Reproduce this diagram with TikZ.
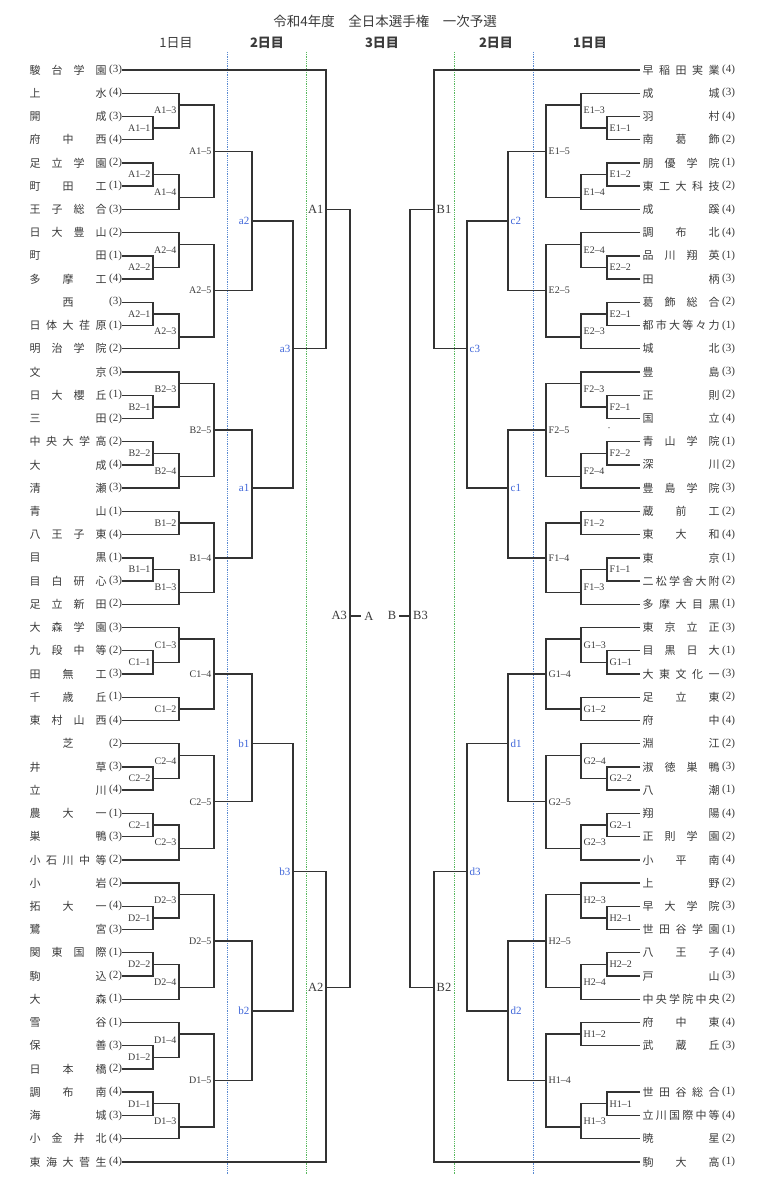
\documentclass[tikz,border=0pt]{standalone}
\usepackage{fontspec}
\setmainfont{Liberation Serif}
\newfontfamily\jp{Noto Sans CJK JP}
\makeatletter
\def\spread#1{\spread@i#1\spread@end}
\def\spread@i#1#2\spread@end{#1\ifx\relax#2\relax\else\hfill\spread@i#2\spread@end\fi}
\makeatother
\definecolor{ln}{HTML}{333333}
\definecolor{tx}{HTML}{3A3A3A}
\definecolor{bl}{HTML}{3D64D8}
\definecolor{bdot}{HTML}{5A8AD2}
\definecolor{gdot}{HTML}{58B85E}
\tikzset{
 br/.style={draw=ln,line width=1.4pt},
 nm/.style={inner sep=0pt,font=\jp\fontsize{11}{11}\selectfont,text=tx},
 sd/.style={inner sep=0pt,font=\fontsize{11}{11}\selectfont,text=tx},
 lab/.style={inner sep=0pt,font=\fontsize{10}{10}\selectfont,text=tx},
 blab/.style={inner sep=0pt,font=\fontsize{11}{11}\selectfont,text=bl},
 big/.style={inner sep=0pt,font=\fontsize{12.5}{12.5}\selectfont,text=tx},
 hdr/.style={inner sep=0pt,font=\jp\fontsize{13}{13}\selectfont,text=tx},
 bdotline/.style={draw=bdot,line width=0.8pt,densely dotted},
 gdotline/.style={draw=gdot,line width=0.8pt,densely dotted},
}
% team on left / right: row, name, seed
\newcommand\TL[3]{\node[nm,anchor=west] (L#1) at (29.5,{2*#1}) {\makebox[77pt][s]{\spread{#2}}};
 \node[sd] (LS#1) at (115.5,{2*#1}) {(#3)};}
\newcommand\TR[3]{\node[nm,anchor=west] (R#1) at (642.5,{2*#1}) {\makebox[77pt][s]{\spread{#2}}};
 \node[sd] (RS#1) at (728.5,{2*#1}) {(#3)};}
% match: xa ua xb ub xv block num labu
\newcommand\mL[8]{\draw[br] (#1,#2) -| (#5,#4) -- (#3,#4);
 \node[lab,anchor=east] (#6-#7) at ({#5-2.5},#8) {#6–#7};}
\newcommand\mR[8]{\draw[br] (#1,#2) -| (#5,#4) -- (#3,#4);
 \node[lab,anchor=west] (#6-#7) at ({#5+2.5},#8) {#6–#7};}
\newcommand\bL[7]{\draw[br] (#1,#2) -| (#5,#4) -- (#3,#4);
 \node[blab,anchor=east] (#6) at ({#5-2.5},#7) {#6};}
\newcommand\bR[7]{\draw[br] (#1,#2) -| (#5,#4) -- (#3,#4);
 \node[blab,anchor=west] (#6) at ({#5+2.5},#7) {#6};}
\begin{document}
\begin{tikzpicture}[x=1pt,y=-11.615pt]
\useasboundingbox (0,-6.027) rectangle (768,95.393);
% dotted day separators
\draw[bdotline] (227,-1.55) -- (227,95.05);
\draw[bdotline] (533,-1.55) -- (533,95.05);
\draw[gdotline] (306,-1.55) -- (306,95.05);
\draw[gdotline] (454,-1.55) -- (454,95.05);
% title and headers
\node[hdr,font=\jp\fontsize{13.5}{13.5}\selectfont] (title) at (385,-4.2) {令和4年度　全日本選手権　一次予選};
\node[hdr] (h1) at (176,-2.3) {1日目};
\node[hdr,font=\jp\bfseries\fontsize{13}{13}\selectfont] (h2) at (267,-2.3) {2日目};
\node[hdr,font=\jp\bfseries\fontsize{13}{13}\selectfont] (h3) at (382,-2.3) {3日目};
\node[hdr,font=\jp\bfseries\fontsize{13}{13}\selectfont] (h4) at (496,-2.3) {2日目};
\node[hdr,font=\jp\bfseries\fontsize{13}{13}\selectfont] (h5) at (590,-2.3) {1日目};
% left teams
\TL{0}{駿台学園}{3}
\TL{1}{上水}{4}
\TL{2}{開成}{3}
\TL{3}{府中西}{4}
\TL{4}{足立学園}{2}
\TL{5}{町田工}{1}
\TL{6}{王子総合}{3}
\TL{7}{日大豊山}{2}
\TL{8}{町田}{1}
\TL{9}{多摩工}{4}
\TL{10}{\hfill 西\hfill}{3}
\TL{11}{日体大荏原}{1}
\TL{12}{明治学院}{2}
\TL{13}{文京}{3}
\TL{14}{日大櫻丘}{1}
\TL{15}{三田}{2}
\TL{16}{中央大学高}{2}
\TL{17}{大成}{4}
\TL{18}{清瀬}{3}
\TL{19}{青山}{1}
\TL{20}{八王子東}{4}
\TL{21}{目黒}{1}
\TL{22}{目白研心}{3}
\TL{23}{足立新田}{2}
\TL{24}{大森学園}{3}
\TL{25}{九段中等}{2}
\TL{26}{田無工}{3}
\TL{27}{千歳丘}{1}
\TL{28}{東村山西}{4}
\TL{29}{\hfill 芝\hfill}{2}
\TL{30}{井草}{3}
\TL{31}{立川}{4}
\TL{32}{農大一}{1}
\TL{33}{巣鴨}{3}
\TL{34}{小石川中等}{2}
\TL{35}{小岩}{2}
\TL{36}{拓大一}{4}
\TL{37}{鷺宮}{3}
\TL{38}{関東国際}{1}
\TL{39}{駒込}{2}
\TL{40}{大森}{1}
\TL{41}{雪谷}{1}
\TL{42}{保善}{3}
\TL{43}{日本橋}{2}
\TL{44}{調布南}{4}
\TL{45}{海城}{3}
\TL{46}{小金井北}{4}
\TL{47}{東海大菅生}{4}
% right teams
\TR{0}{早稲田実業}{4}
\TR{1}{成城}{3}
\TR{2}{羽村}{4}
\TR{3}{南葛飾}{2}
\TR{4}{朋優学院}{1}
\TR{5}{東工大科技}{2}
\TR{6}{成蹊}{4}
\TR{7}{調布北}{4}
\TR{8}{品川翔英}{1}
\TR{9}{田柄}{3}
\TR{10}{葛飾総合}{2}
\TR{11}{都市大等々力}{1}
\TR{12}{城北}{3}
\TR{13}{豊島}{3}
\TR{14}{正則}{2}
\TR{15}{国立}{4}
\TR{16}{青山学院}{1}
\TR{17}{深川}{2}
\TR{18}{豊島学院}{3}
\TR{19}{蔵前工}{2}
\TR{20}{東大和}{4}
\TR{21}{東京}{1}
\TR{22}{二松学舎大附}{2}
\TR{23}{多摩大目黒}{1}
\TR{24}{東京立正}{3}
\TR{25}{目黒日大}{1}
\TR{26}{大東文化一}{3}
\TR{27}{足立東}{2}
\TR{28}{府中}{4}
\TR{29}{淵江}{2}
\TR{30}{淑徳巣鴨}{3}
\TR{31}{八潮}{1}
\TR{32}{翔陽}{4}
\TR{33}{正則学園}{2}
\TR{34}{小平南}{4}
\TR{35}{上野}{2}
\TR{36}{早大学院}{3}
\TR{37}{世田谷学園}{1}
\TR{38}{八王子}{4}
\TR{39}{戸山}{3}
\TR{40}{中央学院中央}{2}
\TR{41}{府中東}{4}
\TR{42}{武蔵丘}{3}
\TR{44}{世田谷総合}{1}
\TR{45}{立川国際中等}{4}
\TR{46}{暁星}{2}
\TR{47}{駒大高}{1}
% ---------- left brackets ----------
\mL{122}{4}{122}{6}{153}{A1}{1}{5}
\mL{122}{2}{153}{5}{179}{A1}{3}{3.5}
\mL{122}{8}{122}{10}{153}{A1}{2}{9}
\mL{153}{9}{122}{12}{179}{A1}{4}{10.5}
\mL{179}{3}{179}{11}{214}{A1}{5}{7}
\mL{122}{16}{122}{18}{153}{A2}{2}{17}
\mL{122}{14}{153}{17}{179}{A2}{4}{15.5}
\mL{122}{20}{122}{22}{153}{A2}{1}{21}
\mL{153}{21}{122}{24}{179}{A2}{3}{22.5}
\mL{179}{15}{179}{23}{214}{A2}{5}{19}
\bL{214}{7}{214}{19}{252}{a2}{13}
\mL{122}{28}{122}{30}{153}{B2}{1}{29}
\mL{122}{26}{153}{29}{179}{B2}{3}{27.5}
\mL{122}{32}{122}{34}{153}{B2}{2}{33}
\mL{153}{33}{122}{36}{179}{B2}{4}{34.5}
\mL{179}{27}{179}{35}{214}{B2}{5}{31}
\mL{122}{38}{122}{40}{179}{B1}{2}{39}
\mL{122}{42}{122}{44}{153}{B1}{1}{43}
\mL{153}{43}{122}{46}{179}{B1}{3}{44.5}
\mL{179}{39}{179}{45}{214}{B1}{4}{42}
\bL{214}{31}{214}{42}{252}{a1}{36}
\bL{252}{13}{252}{36}{293}{a3}{24}
\draw[br] (122,0) -| (326,24) -- (293,24);
\node[big,anchor=east] (A1) at (323.5,12) {A1};
\mL{122}{50}{122}{52}{153}{C1}{1}{51}
\mL{122}{48}{153}{51}{179}{C1}{3}{49.5}
\mL{122}{54}{122}{56}{179}{C1}{2}{55}
\mL{179}{49}{179}{55}{214}{C1}{4}{52}
\mL{122}{60}{122}{62}{153}{C2}{2}{61}
\mL{122}{58}{153}{61}{179}{C2}{4}{59.5}
\mL{122}{64}{122}{66}{153}{C2}{1}{65}
\mL{153}{65}{122}{68}{179}{C2}{3}{66.5}
\mL{179}{59}{179}{67}{214}{C2}{5}{63}
\bL{214}{52}{214}{63}{252}{b1}{58}
\mL{122}{72}{122}{74}{153}{D2}{1}{73}
\mL{122}{70}{153}{73}{179}{D2}{3}{71.5}
\mL{122}{76}{122}{78}{153}{D2}{2}{77}
\mL{153}{77}{122}{80}{179}{D2}{4}{78.5}
\mL{179}{71}{179}{79}{214}{D2}{5}{75}
\mL{122}{84}{122}{86}{153}{D1}{2}{85}
\mL{122}{82}{153}{85}{179}{D1}{4}{83.5}
\mL{122}{88}{122}{90}{153}{D1}{1}{89}
\mL{153}{89}{122}{92}{179}{D1}{3}{90.5}
\mL{179}{83}{179}{91}{214}{D1}{5}{87}
\bL{214}{75}{214}{87}{252}{b2}{81}
\bL{252}{58}{252}{81}{293}{b3}{69}
\draw[br] (293,69) -| (326,94) -- (122,94);
\node[big,anchor=east] (A2) at (323.5,79) {A2};
\draw[br] (326,12) -| (350,79) -- (326,79);
\node[big,anchor=east] (A3) at (347,47) {A3};
\node[big] (A) at (369,47) {A};
\draw[br] (350,47) -- ([xshift=-3pt]A.west);
% ---------- right brackets ----------
\mR{640}{4}{640}{6}{607}{E1}{1}{5}
\mR{640}{2}{607}{5}{581}{E1}{3}{3.5}
\mR{640}{8}{640}{10}{607}{E1}{2}{9}
\mR{607}{9}{640}{12}{581}{E1}{4}{10.5}
\mR{581}{3}{581}{11}{546}{E1}{5}{7}
\mR{640}{16}{640}{18}{607}{E2}{2}{17}
\mR{640}{14}{607}{17}{581}{E2}{4}{15.5}
\mR{640}{20}{640}{22}{607}{E2}{1}{21}
\mR{607}{21}{640}{24}{581}{E2}{3}{22.5}
\mR{581}{15}{581}{23}{546}{E2}{5}{19}
\bR{546}{7}{546}{19}{508}{c2}{13}
\mR{640}{28}{640}{30}{607}{F2}{1}{29}
\mR{640}{26}{607}{29}{581}{F2}{3}{27.5}
\mR{640}{32}{640}{34}{607}{F2}{2}{33}
\mR{607}{33}{640}{36}{581}{F2}{4}{34.5}
\mR{581}{27}{581}{35}{546}{F2}{5}{31}
\mR{640}{38}{640}{40}{581}{F1}{2}{39}
\mR{640}{42}{640}{44}{607}{F1}{1}{43}
\mR{607}{43}{640}{46}{581}{F1}{3}{44.5}
\mR{581}{39}{581}{45}{546}{F1}{4}{42}
\bR{546}{31}{546}{42}{508}{c1}{36}
\bR{508}{13}{508}{36}{467}{c3}{24}
\draw[br] (640,0) -| (434,24) -- (467,24);
\node[big,anchor=west] (B1) at (436.5,12) {B1};
\mR{640}{50}{640}{52}{607}{G1}{1}{51}
\mR{640}{48}{607}{51}{581}{G1}{3}{49.5}
\mR{640}{54}{640}{56}{581}{G1}{2}{55}
\mR{581}{49}{581}{55}{546}{G1}{4}{52}
\mR{640}{60}{640}{62}{607}{G2}{2}{61}
\mR{640}{58}{607}{61}{581}{G2}{4}{59.5}
\mR{640}{64}{640}{66}{607}{G2}{1}{65}
\mR{607}{65}{640}{68}{581}{G2}{3}{66.5}
\mR{581}{59}{581}{67}{546}{G2}{5}{63}
\bR{546}{52}{546}{63}{508}{d1}{58}
\mR{640}{72}{640}{74}{607}{H2}{1}{73}
\mR{640}{70}{607}{73}{581}{H2}{3}{71.5}
\mR{640}{76}{640}{78}{607}{H2}{2}{77}
\mR{607}{77}{640}{80}{581}{H2}{4}{78.5}
\mR{581}{71}{581}{79}{546}{H2}{5}{75}
\mR{640}{82}{640}{84}{581}{H1}{2}{83}
\mR{640}{88}{640}{90}{607}{H1}{1}{89}
\mR{607}{89}{640}{92}{581}{H1}{3}{90.5}
\mR{581}{83}{581}{91}{546}{H1}{4}{87}
\bR{546}{75}{546}{87}{508}{d2}{81}
\bR{508}{58}{508}{81}{467}{d3}{69}
\draw[br] (467,69) -| (434,94) -- (640,94);
\node[big,anchor=west] (B2) at (436.5,79) {B2};
\draw[br] (434,12) -| (410,79) -- (434,79);
\node[big,anchor=west] (B3) at (413,47) {B3};
\node[big] (B) at (392,47) {B};
\draw[br] (410,47) -- ([xshift=3pt]B.east);
% stray dot
\fill[tx] (609,30.8) circle (0.6pt);
\end{tikzpicture}
\end{document}
